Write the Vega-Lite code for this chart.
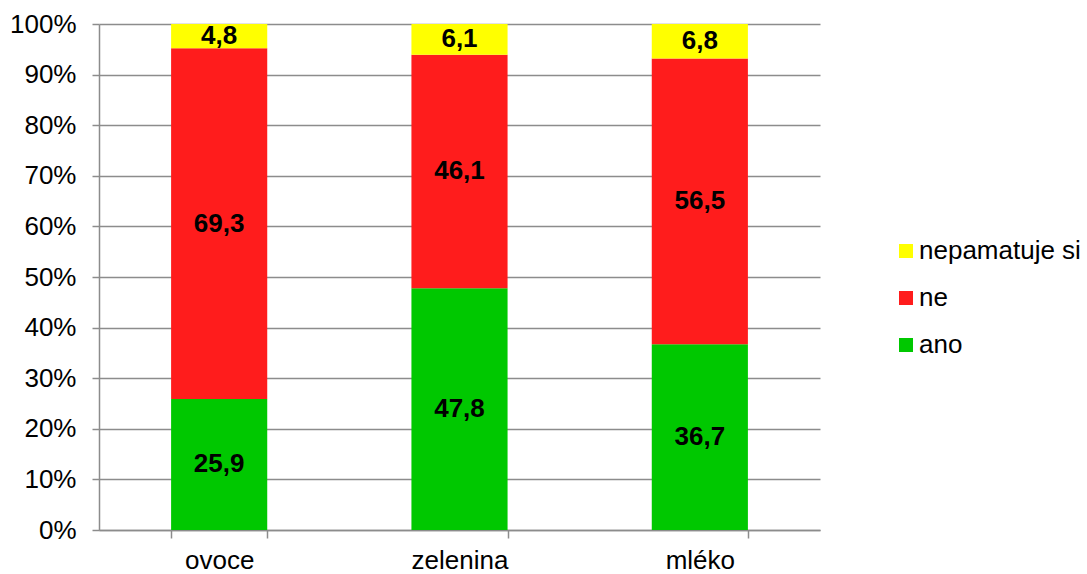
{
  "$schema": "https://vega.github.io/schema/vega-lite/v6.json",
  "autosize": "none",
  "width": 721,
  "height": 506,
  "padding": {"left": 99, "top": 24, "right": 267, "bottom": 44},
  "config": {
    "font": "Liberation Sans",
    "view": {"stroke": null},
    "locale": {"number": {"decimal": ",", "thousands": " ", "grouping": [3], "currency": ["", " Kč"]}}
  },
  "data": {
    "values": [
      {"kategorie": "ovoce", "odpoved": "ano", "hodnota": 25.9},
      {"kategorie": "ovoce", "odpoved": "ne", "hodnota": 69.3},
      {"kategorie": "ovoce", "odpoved": "nepamatuje si", "hodnota": 4.8},
      {"kategorie": "zelenina", "odpoved": "ano", "hodnota": 47.8},
      {"kategorie": "zelenina", "odpoved": "ne", "hodnota": 46.1},
      {"kategorie": "zelenina", "odpoved": "nepamatuje si", "hodnota": 6.1},
      {"kategorie": "mléko", "odpoved": "ano", "hodnota": 36.7},
      {"kategorie": "mléko", "odpoved": "ne", "hodnota": 56.5},
      {"kategorie": "mléko", "odpoved": "nepamatuje si", "hodnota": 6.8}
    ]
  },
  "encoding": {
    "x": {
      "field": "kategorie",
      "type": "nominal",
      "sort": ["ovoce", "zelenina", "mléko"],
      "scale": {"paddingInner": 0.6, "paddingOuter": 0.3},
      "axis": {
        "title": null,
        "labelAngle": 0,
        "labelFontSize": 26,
        "labelColor": "#000000",
        "labelPadding": 9,
        "tickBand": "extent",
        "tickSize": 8,
        "tickColor": "#8c8c8c",
        "tickWidth": 1.5,
        "domainColor": "#8c8c8c",
        "domainWidth": 1.5,
        "grid": false
      }
    },
    "y": {
      "field": "hodnota",
      "type": "quantitative",
      "stack": "normalize",
      "scale": {"domain": [0, 1]},
      "axis": {
        "title": null,
        "format": ".0%",
        "values": [0, 0.1, 0.2, 0.3, 0.4, 0.5, 0.6, 0.7, 0.8, 0.9, 1],
        "labelOverlap": false,
        "labelFontSize": 26,
        "labelColor": "#000000",
        "labelPadding": 16,
        "tickSize": 7,
        "tickColor": "#8c8c8c",
        "tickWidth": 1.5,
        "domainColor": "#8c8c8c",
        "domainWidth": 1.5,
        "grid": true,
        "gridColor": "#8c8c8c",
        "gridWidth": 1.5
      }
    },
    "order": {"field": "odpoved", "sort": "ascending"}
  },
  "layer": [
    {
      "mark": {"type": "bar"},
      "encoding": {
        "color": {
          "field": "odpoved",
          "type": "nominal",
          "scale": {
            "domain": ["nepamatuje si", "ne", "ano"],
            "range": ["#FFFF00", "#FF1C1C", "#00C800"]
          },
          "legend": {
            "title": null,
            "orient": "none",
            "legendX": 794,
            "legendY": 214,
            "symbolType": "square",
            "symbolSize": 196,
            "symbolStrokeWidth": 0,
            "labelFontSize": 26,
            "labelColor": "#000000",
            "labelOffset": 0,
            "labelLimit": 400,
            "rowPadding": 21
          }
        }
      }
    },
    {
      "mark": {"type": "text", "fontSize": 26, "fontWeight": "bold", "color": "#000000", "baseline": "middle"},
      "encoding": {
        "y": {"field": "hodnota", "type": "quantitative", "stack": "normalize", "bandPosition": 0.5},
        "text": {"field": "hodnota", "type": "quantitative", "format": ".1f"}
      }
    }
  ]
}
